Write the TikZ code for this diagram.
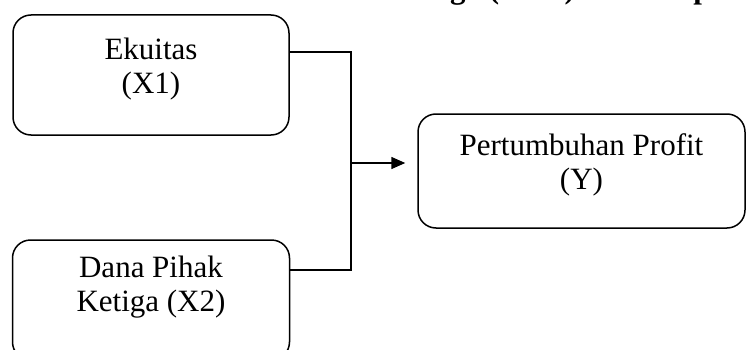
\documentclass[tikz,border=0pt]{standalone}
\usepackage{fontspec}
\setmainfont{Liberation Serif}
\usetikzlibrary{arrows.meta}
\begin{document}
\begin{tikzpicture}[x=1pt,y=1pt,
  box/.style={draw,line width=1.5pt,rounded corners=18pt,inner sep=0pt},
  txt/.style={align=center,font=\fontsize{31}{34}\selectfont,inner sep=0pt},
  conn/.style={line width=1.5pt}]
\useasboundingbox (0,0) rectangle (747,349);
\clip (0,0) rectangle (747,349);
\node[anchor=base west,font=\fontsize{31}{34}\selectfont\bfseries,inner sep=0pt] (title) at (393,350.5) {Ketiga (DPK) Terhadap Pertumbuhan};
\node[box,minimum width=276pt,minimum height=120pt] (b1) at (151,274) {};
\node[box,minimum width=277pt,minimum height=120pt] (b2) at (151,49) {};
\node[box,minimum width=327pt,minimum height=114pt] (b3) at (581.5,178) {};
\node[txt] (t1) at ([yshift=6pt]b1.center) {Ekuitas\\(X1)};
\node[txt] (t2) at (151,62) {Dana Pihak\\Ketiga (X2)};
\node[txt] (t3) at ([yshift=6pt]b3.center) {Pertumbuhan Profit\\(Y)};
\coordinate (jt) at (351,297);
\coordinate (jb) at (351,79);
\coordinate (jm) at (351,186);
\draw[conn] (b1.east |- jt) -- (jt) -- (jb) -- (b2.east |- jb);
\draw[conn,-{Triangle[length=14pt,width=12pt]}] (jm) -- ([xshift=-12pt]b3.west |- jm);
\end{tikzpicture}
\end{document}
